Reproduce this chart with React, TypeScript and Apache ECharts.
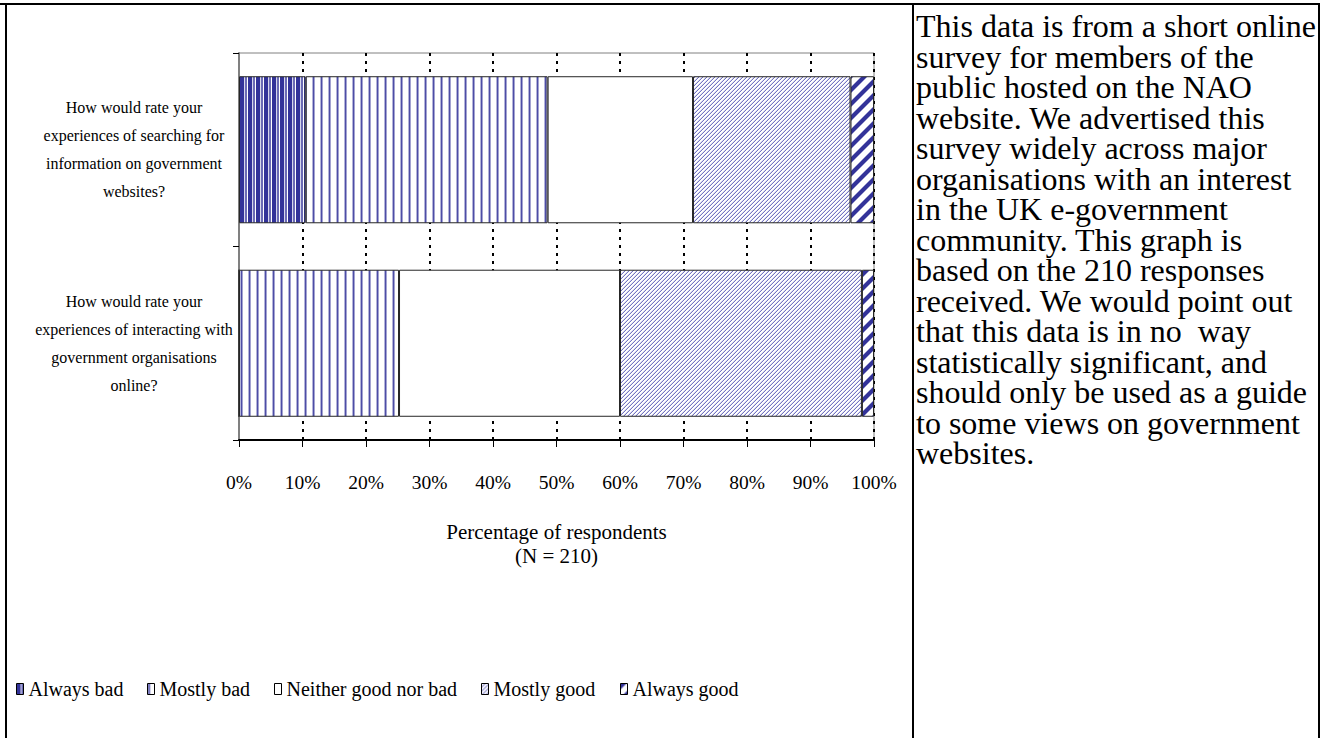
import React, { useEffect, useRef } from "react";
import * as echarts from "echarts";

const categories = [
  "How would rate your\nexperiences of searching for\ninformation on government\nwebsites?",
  "How would rate your\nexperiences of interacting with\ngovernment organisations\nonline?",
];
const seriesNames = ["Always bad", "Mostly bad", "Neither good nor bad", "Mostly good", "Always good"];
const alwaysBad = [10.5, 0];
const mostlyBad = [38.1, 25.2];
const neitherGoodNorBad = [22.9, 34.8];
const mostlyGood = [24.8, 38.1];
const alwaysGood = [3.7, 1.9];
const axisTitleLines = ["Percentage of respondents", "(N = 210)"];
const noteLines = [
  "This data is from a short online",
  "survey for members of the",
  "public hosted on the NAO",
  "website. We advertised this",
  "survey widely across major",
  "organisations with an interest",
  "in the UK e-government",
  "community. This graph is",
  "based on the 210 responses",
  "received. We would point out",
  "that this data is in no  way",
  "statistically significant, and",
  "should only be used as a guide",
  "to some views on government",
  "websites.",
];
const legendLefts = [16, 147, 274, 481, 620];

const FONT = '"Liberation Serif", "Times New Roman", serif';

function makeTile(size: number, colorAt: (x: number, y: number) => string | null) {
  const c = document.createElement("canvas");
  c.width = size;
  c.height = size;
  const ctx = c.getContext("2d")!;
  ctx.fillStyle = "#ffffff";
  ctx.fillRect(0, 0, size, size);
  for (let y = 0; y < size; y++) {
    for (let x = 0; x < size; x++) {
      const col = colorAt(x, y);
      if (col) {
        ctx.fillStyle = col;
        ctx.fillRect(x, y, 1, 1);
      }
    }
  }
  return { image: c.toDataURL(), repeat: "repeat", imageWidth: size, imageHeight: size } as any;
}

export default function App() {
  const ref = useRef<HTMLDivElement>(null);
  useEffect(() => {
    if (!ref.current) return;
    const chart = echarts.init(ref.current, undefined, { renderer: "svg" });

    const pAlwaysBad = makeTile(8, (x) => {
      if (x < 4) return "#333399";
      if (x === 4) return "#d6d6ec";
      if (x === 5 || x === 6) return "#6b6bb5";
      return null;
    });
    const pMostlyBad = makeTile(8, (x) => {
      if (x === 0) return "#b3b3d9";
      if (x === 1) return "#4d4da6";
      if (x === 2) return "#a3a3d1";
      return null;
    });
    const pMostlyGood = makeTile(4, (x, y) => {
      const k = (x + y) % 4;
      if (k === 3) return "#7474c2";
      if (k === 2) return "#dadaf0";
      return null;
    });
    const pAlwaysGood = makeTile(14, (x, y) => {
      const k = (x + y) % 14;
      if (k <= 4) return "#333399";
      if (k === 5 || k === 13) return "#9c9ccf";
      return null;
    });
    const fills = [pAlwaysBad, pMostlyBad, "#ffffff", pMostlyGood, pAlwaysGood];
    const values = [alwaysBad, mostlyBad, neitherGoodNorBad, mostlyGood, alwaysGood];

    const series = seriesNames.map((name, i) => ({
      name,
      type: "bar",
      stack: "total",
      barCategoryGap: "24%",
      data: values[i],
      itemStyle: { color: fills[i], borderColor: "#262626", borderWidth: 1 },
      emphasis: { disabled: true },
    }));

    const legends = seriesNames.map((name, i) => ({
      data: [name],
      left: legendLefts[i],
      top: 679,
      padding: 0,
      itemWidth: 7,
      itemHeight: 11,
      itemGap: 6,
      icon: "rect",
      selectedMode: false,
      itemStyle: { borderColor: "#000", borderWidth: 1 },
      textStyle: { fontFamily: FONT, fontSize: 20, color: "#000" },
    }));

    const lineStyle = { stroke: "#000", lineWidth: 2 };

    chart.setOption({
      animation: false,
      backgroundColor: "#ffffff",
      textStyle: { fontFamily: FONT },
      legend: legends,
      grid: {
        left: 239,
        right: 1327 - 874,
        top: 53,
        bottom: 738 - 440,
        show: true,
        borderColor: "#808080",
        borderWidth: 1,
        backgroundColor: "transparent",
      },
      xAxis: {
        type: "value",
        min: 0,
        max: 100,
        interval: 10,
        axisLine: { show: true, lineStyle: { color: "#000", width: 2 } },
        axisTick: { show: true, length: 7, lineStyle: { color: "#000", width: 1 } },
        axisLabel: {
          formatter: "{value}%",
          fontFamily: FONT,
          fontSize: 19.5,
          color: "#000",
          margin: 32,
        },
        splitLine: {
          show: true,
          lineStyle: { color: "#000", width: 2, type: [3, 5] },
        },
        name: axisTitleLines.join("\n"),
        nameLocation: "middle",
        nameGap: 80,
        nameTextStyle: { fontFamily: FONT, fontSize: 21, color: "#000", lineHeight: 24 },
      },
      yAxis: {
        type: "category",
        data: categories,
        inverse: true,
        axisLine: { show: true, lineStyle: { color: "#808080", width: 2 } },
        axisTick: { show: true, length: 6, lineStyle: { color: "#000", width: 1 } },
        axisLabel: {
          fontFamily: FONT,
          fontSize: 16,
          lineHeight: 28,
          color: "#000",
          align: "center",
          margin: 105,
        },
        splitLine: { show: false },
      },
      series,
      graphic: [
        { type: "line", shape: { x1: 0, y1: 4, x2: 1320, y2: 4 }, style: lineStyle, silent: true },
        { type: "line", shape: { x1: 6, y1: 3, x2: 6, y2: 738 }, style: lineStyle, silent: true },
        { type: "line", shape: { x1: 913, y1: 3, x2: 913, y2: 738 }, style: lineStyle, silent: true },
        { type: "line", shape: { x1: 1319, y1: 3, x2: 1319, y2: 738 }, style: lineStyle, silent: true },
        {
          type: "text",
          x: 916,
          y: 11,
          silent: true,
          style: {
            text: noteLines.join("\n"),
            fontFamily: FONT,
            fontSize: 32,
            lineHeight: 30.5,
            fill: "#000",
            textVerticalAlign: "top",
            verticalAlign: "top",
          },
        },
      ],
    });
    return () => chart.dispose();
  }, []);

  return (
    <div
      ref={ref}
      style={{ position: "fixed", left: 0, top: 0, width: 1327, height: 738, background: "#fff" }}
    />
  );
}
